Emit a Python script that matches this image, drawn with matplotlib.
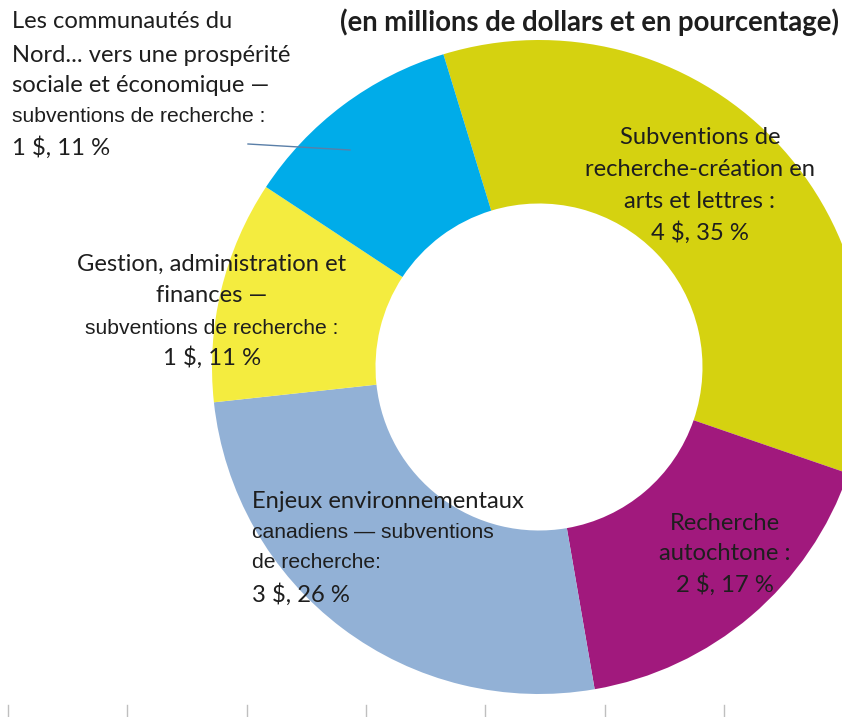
import matplotlib
matplotlib.use("Agg")
import matplotlib.pyplot as plt
from matplotlib.lines import Line2D

# ---------------- data ----------------
categories = [
    "Subventions de recherche-création en arts et lettres",
    "Recherche autochtone",
    "Enjeux environnementaux canadiens — subventions de recherche",
    "Gestion, administration et finances — subventions de recherche",
    "Les communautés du Nord... vers une prospérité sociale et économique — subventions de recherche",
]
amounts = [4, 2, 3, 1, 1]          # millions de dollars
percents = [35, 17, 26, 11, 11]    # pourcentage
colors = ["#D5D210", "#A1197D", "#92B1D6", "#F4EC3F", "#00ACE9"]
title = "(en millions de dollars et en pourcentage)"

# label lines (text, font kind) per category
label_lines = [
    [("Subventions de", "c"), ("recherche-création en", "c"), ("arts et lettres :", "c")],
    [("Recherche", "c"), ("autochtone :", "c")],
    [("Enjeux environnementaux", "c"), ("canadiens — subventions", "a"), ("de recherche:", "a")],
    [("Gestion, administration et", "c"), ("finances —", "c"), ("subventions de recherche :", "a")],
    [("Les communautés du", "c"), ("Nord... vers une prospérité", "c"),
     ("sociale et économique —", "c"), ("subventions de recherche :", "a")],
]

# ---------------- figure ----------------
W, H = 842, 717
fig = plt.figure(figsize=(W / 100, H / 100), dpi=100)
fig.patch.set_facecolor("white")

cx, cy, R = 539, 367, 327
ax = fig.add_axes([(cx - R) / W, (H - cy - R) / H, 2 * R / W, 2 * R / H])
ax.pie(percents, colors=colors, startangle=107, counterclock=False,
       radius=1.0, wedgeprops=dict(width=0.5, edgecolor="none", linewidth=0))
ax.set_xlim(-1, 1)
ax.set_ylim(-1, 1)
ax.set_aspect("equal")
ax.axis("off")

TXT = "#1E1E1E"
FONT_C = "Lato"
FONT_A = "Liberation Sans"
SIZE_C = 17.1
SIZE_A = 15.2


def px(x, y):
    return x / W, 1 - y / H


def draw_label(lines, x, ys, ha):
    for (s, kind), y in zip(lines, ys):
        fam = FONT_C if kind == "c" else FONT_A
        size = SIZE_C if kind == "c" else SIZE_A
        fig.text(*px(x, y), s, ha=ha, va="center", family=fam, fontsize=size,
                 color=TXT)


# label placement (pixel layout)
layout = [
    (700, [138, 170, 202, 233], "center"),
    (725, [523, 554, 585], "center"),
    (252, [501, 532, 563, 595], "left"),
    (212, [264, 296, 328, 358], "center"),
    (12, [22, 55, 86, 117, 148], "left"),
]

for i, (x, ys, ha) in enumerate(layout):
    lines = list(label_lines[i]) + [(f"{amounts[i]} $, {percents[i]} %", "c")]
    draw_label(lines, x, ys, ha)

# leader line for the small cyan slice
fig.add_artist(Line2D([248 / W, 350 / W], [1 - 144 / H, 1 - 150 / H],
                      color="#5A7FA8", lw=1.0))

# title
fig.text(*px(590, 22), title, ha="center", va="center", family=FONT_C,
         fontweight="bold", fontsize=19.8, color=TXT)

# bottom tick marks of the frame
for k in range(7):
    xt = 8 + k * 119.3
    fig.add_artist(Line2D([xt / W, xt / W], [0, 12 / H], color="#BFBFBF", lw=1.0))

fig.savefig("out.png", dpi=100, facecolor="white")
